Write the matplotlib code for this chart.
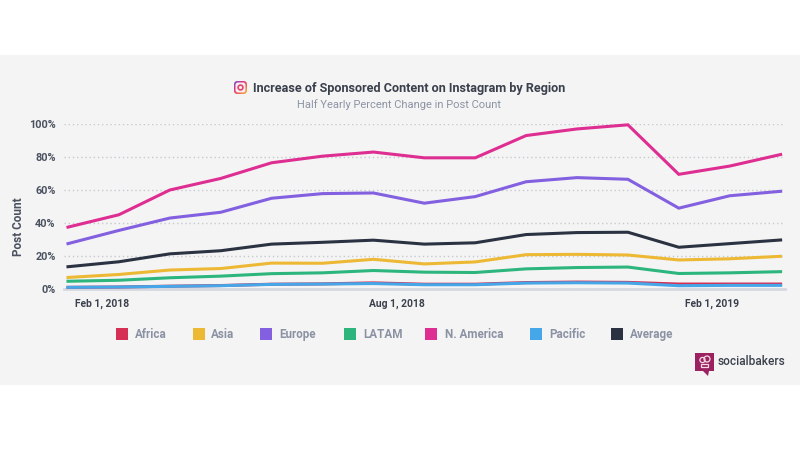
import numpy as np
import matplotlib
matplotlib.use('Agg')
import matplotlib.pyplot as plt
from matplotlib.colors import LinearSegmentedColormap
from matplotlib.patches import Rectangle, FancyBboxPatch, Circle, Polygon

plt.rcParams['font.family'] = ['Roboto', 'DejaVu Sans']

W, H = 800, 450

# values, 15 samples per region
africa = [1.0, 1.2, 1.7, 2.1, 2.9, 3.1, 3.7, 2.9, 2.9, 3.9, 4.2, 4.0, 3.0, 3.0, 3.0]
asia = [7.0, 8.8, 11.5, 12.4, 15.7, 15.6, 18.0, 15.2, 16.4, 20.8, 21.0, 20.6, 17.6, 18.3, 19.8]
europe = [27.5, 35.5, 43.0, 46.5, 55.0, 57.8, 58.2, 52.0, 56.0, 65.0, 67.5, 66.5, 49.0, 56.5, 59.2]
latam = [4.7, 5.3, 6.8, 7.8, 9.3, 9.8, 11.2, 10.2, 10.0, 12.2, 13.0, 13.3, 9.4, 9.8, 10.5]
n_america = [37.5, 45.0, 60.0, 67.0, 76.5, 80.5, 83.0, 79.5, 79.5, 93.0, 97.0, 99.5, 69.5, 74.5, 81.5]
pacific = [1.0, 1.2, 1.6, 2.0, 2.8, 3.0, 3.3, 2.6, 2.6, 3.6, 3.8, 3.6, 2.0, 2.2, 2.2]
average = [13.5, 16.5, 21.3, 23.2, 27.2, 28.3, 29.6, 27.2, 28.0, 33.0, 34.2, 34.4, 25.3, 27.5, 29.7]

regions = ['Africa', 'Asia', 'Europe', 'LATAM', 'N. America', 'Pacific', 'Average']
series = [africa, asia, europe, latam, n_america, pacific, average]
colors = ['#d62f55', '#edb935', '#8260e0', '#2cb67d', '#de2e91', '#45a6e8', '#2b3342']

y_ticks = [0, 20, 40, 60, 80, 100]
y_labels = ['0%', '20%', '40%', '60%', '80%', '100%']
date_ticks = [0.67, 6.46, 12.65]
date_labels = ['Feb 1, 2018', 'Aug 1, 2018', 'Feb 1, 2019']

fig = plt.figure(figsize=(8, 4.5), dpi=100, facecolor='white')

# full figure layer in pixel coords for the band, icon, legend and logo
bg = fig.add_axes([0, 0, 1, 1])
bg.axis('off')
bg.add_patch(Rectangle((0, 55), W, 330, color='#f4f4f4', lw=0))

# instagram icon, gradient square with a light cut out
cmap = LinearSegmentedColormap.from_list('ig', ['#6f52d0', '#d8358f', '#f0604a', '#f7c04a'])
grad = np.add.outer(np.linspace(0, 1, 30), np.linspace(0, 1, 30)) / 2
im = bg.imshow(grad, cmap=cmap, extent=(234, 247, 94, 81), aspect='auto', zorder=2)
clip = FancyBboxPatch((237, 84), 7, 7, boxstyle='round,pad=3,rounding_size=3.5', fc='none', ec='none',
                      transform=bg.transData)
bg.add_patch(clip)
im.set_clip_path(clip)
bg.add_patch(FancyBboxPatch((236.5, 83.5), 8, 8, boxstyle='round,pad=1,rounding_size=2.5', fc='#f6eef0',
                            ec='none', zorder=3))
bg.add_patch(Circle((240.5, 87.5), 2.4, fc='none', ec='#e4466f', lw=1.2, zorder=4))

bg.set_xlim(0, W)
bg.set_ylim(H, 0)

# chart
left, right, top, bottom = 64, 785, 124, 289
ax = fig.add_axes([left / W, 1 - bottom / H, (right - left) / W, (bottom - top) / H])
ax.patch.set_alpha(0)
ax.set_xlim((left - 68) / 50.9, (right - 68) / 50.9)
ax.set_ylim(0, 100)
for name, vals, c in zip(regions, series, colors):
    ax.plot(range(len(vals)), vals, color=c, lw=2.2, solid_joinstyle='miter', clip_on=False, zorder=3)

ax.set_yticks(y_ticks)
ax.set_yticklabels(y_labels, fontsize=7.8, fontweight='bold', color='#4a5160')
ax.set_xticks(date_ticks)
ax.set_xticklabels(date_labels, fontsize=7.4, fontweight='bold', color='#3a404c')
ax.tick_params(length=0)
ax.tick_params(axis='x', pad=7)
ax.tick_params(axis='y', pad=6)
ax.grid(axis='y', color='#c6c9ce', lw=1, linestyle=(0, (1, 2)))
for s in ['top', 'right', 'left']:
    ax.spines[s].set_visible(False)
ax.spines['bottom'].set_color('#d5d8e0')
ax.spines['bottom'].set_linewidth(2)
ax.set_axisbelow(True)

bg.text(18, 227, 'Post Count', rotation=90, ha='center', va='center', fontsize=8.5,
        fontweight='bold', color='#4a5160')

# title
bg.text(253, 92, 'Increase of Sponsored Content on Instagram by Region', ha='left', va='baseline',
        fontsize=9.05, fontweight='bold', color='#3a404c')
bg.text(399, 108, 'Half Yearly Percent Change in Post Count', ha='center', va='baseline',
        fontsize=8.0, color='#8c93a3')

# legend
swatch_x = [116, 193, 260, 344, 425, 530, 611]
text_x = [135, 211, 279, 363, 445, 549, 630]
for sx, tx, name, c in zip(swatch_x, text_x, regions, colors):
    bg.add_patch(Rectangle((sx, 328), 12, 12, color=c, lw=0))
    bg.text(tx, 338, name, ha='left', va='baseline', fontsize=8.4, fontweight='bold', color='#8b92a3')

# socialbakers logo
bg.add_patch(Rectangle((695, 353), 19, 18, color='#9c2160', lw=0))
bg.add_patch(Polygon([[703, 371], [709, 371], [708, 376]], color='#9c2160', lw=0))
bg.add_patch(Circle((702.5, 360), 2.6, fc='none', ec='#f3dbe6', lw=0.9))
bg.add_patch(Circle((707, 359), 3, fc='none', ec='#f3dbe6', lw=0.9))
bg.add_patch(Rectangle((701, 364), 7, 2.5, fc='none', ec='#f3dbe6', lw=0.9))
bg.text(718, 365, 'socialbakers', ha='left', va='baseline', fontsize=8.6, fontweight='medium', color='#3a404c')

fig.savefig('out.png', dpi=100)
